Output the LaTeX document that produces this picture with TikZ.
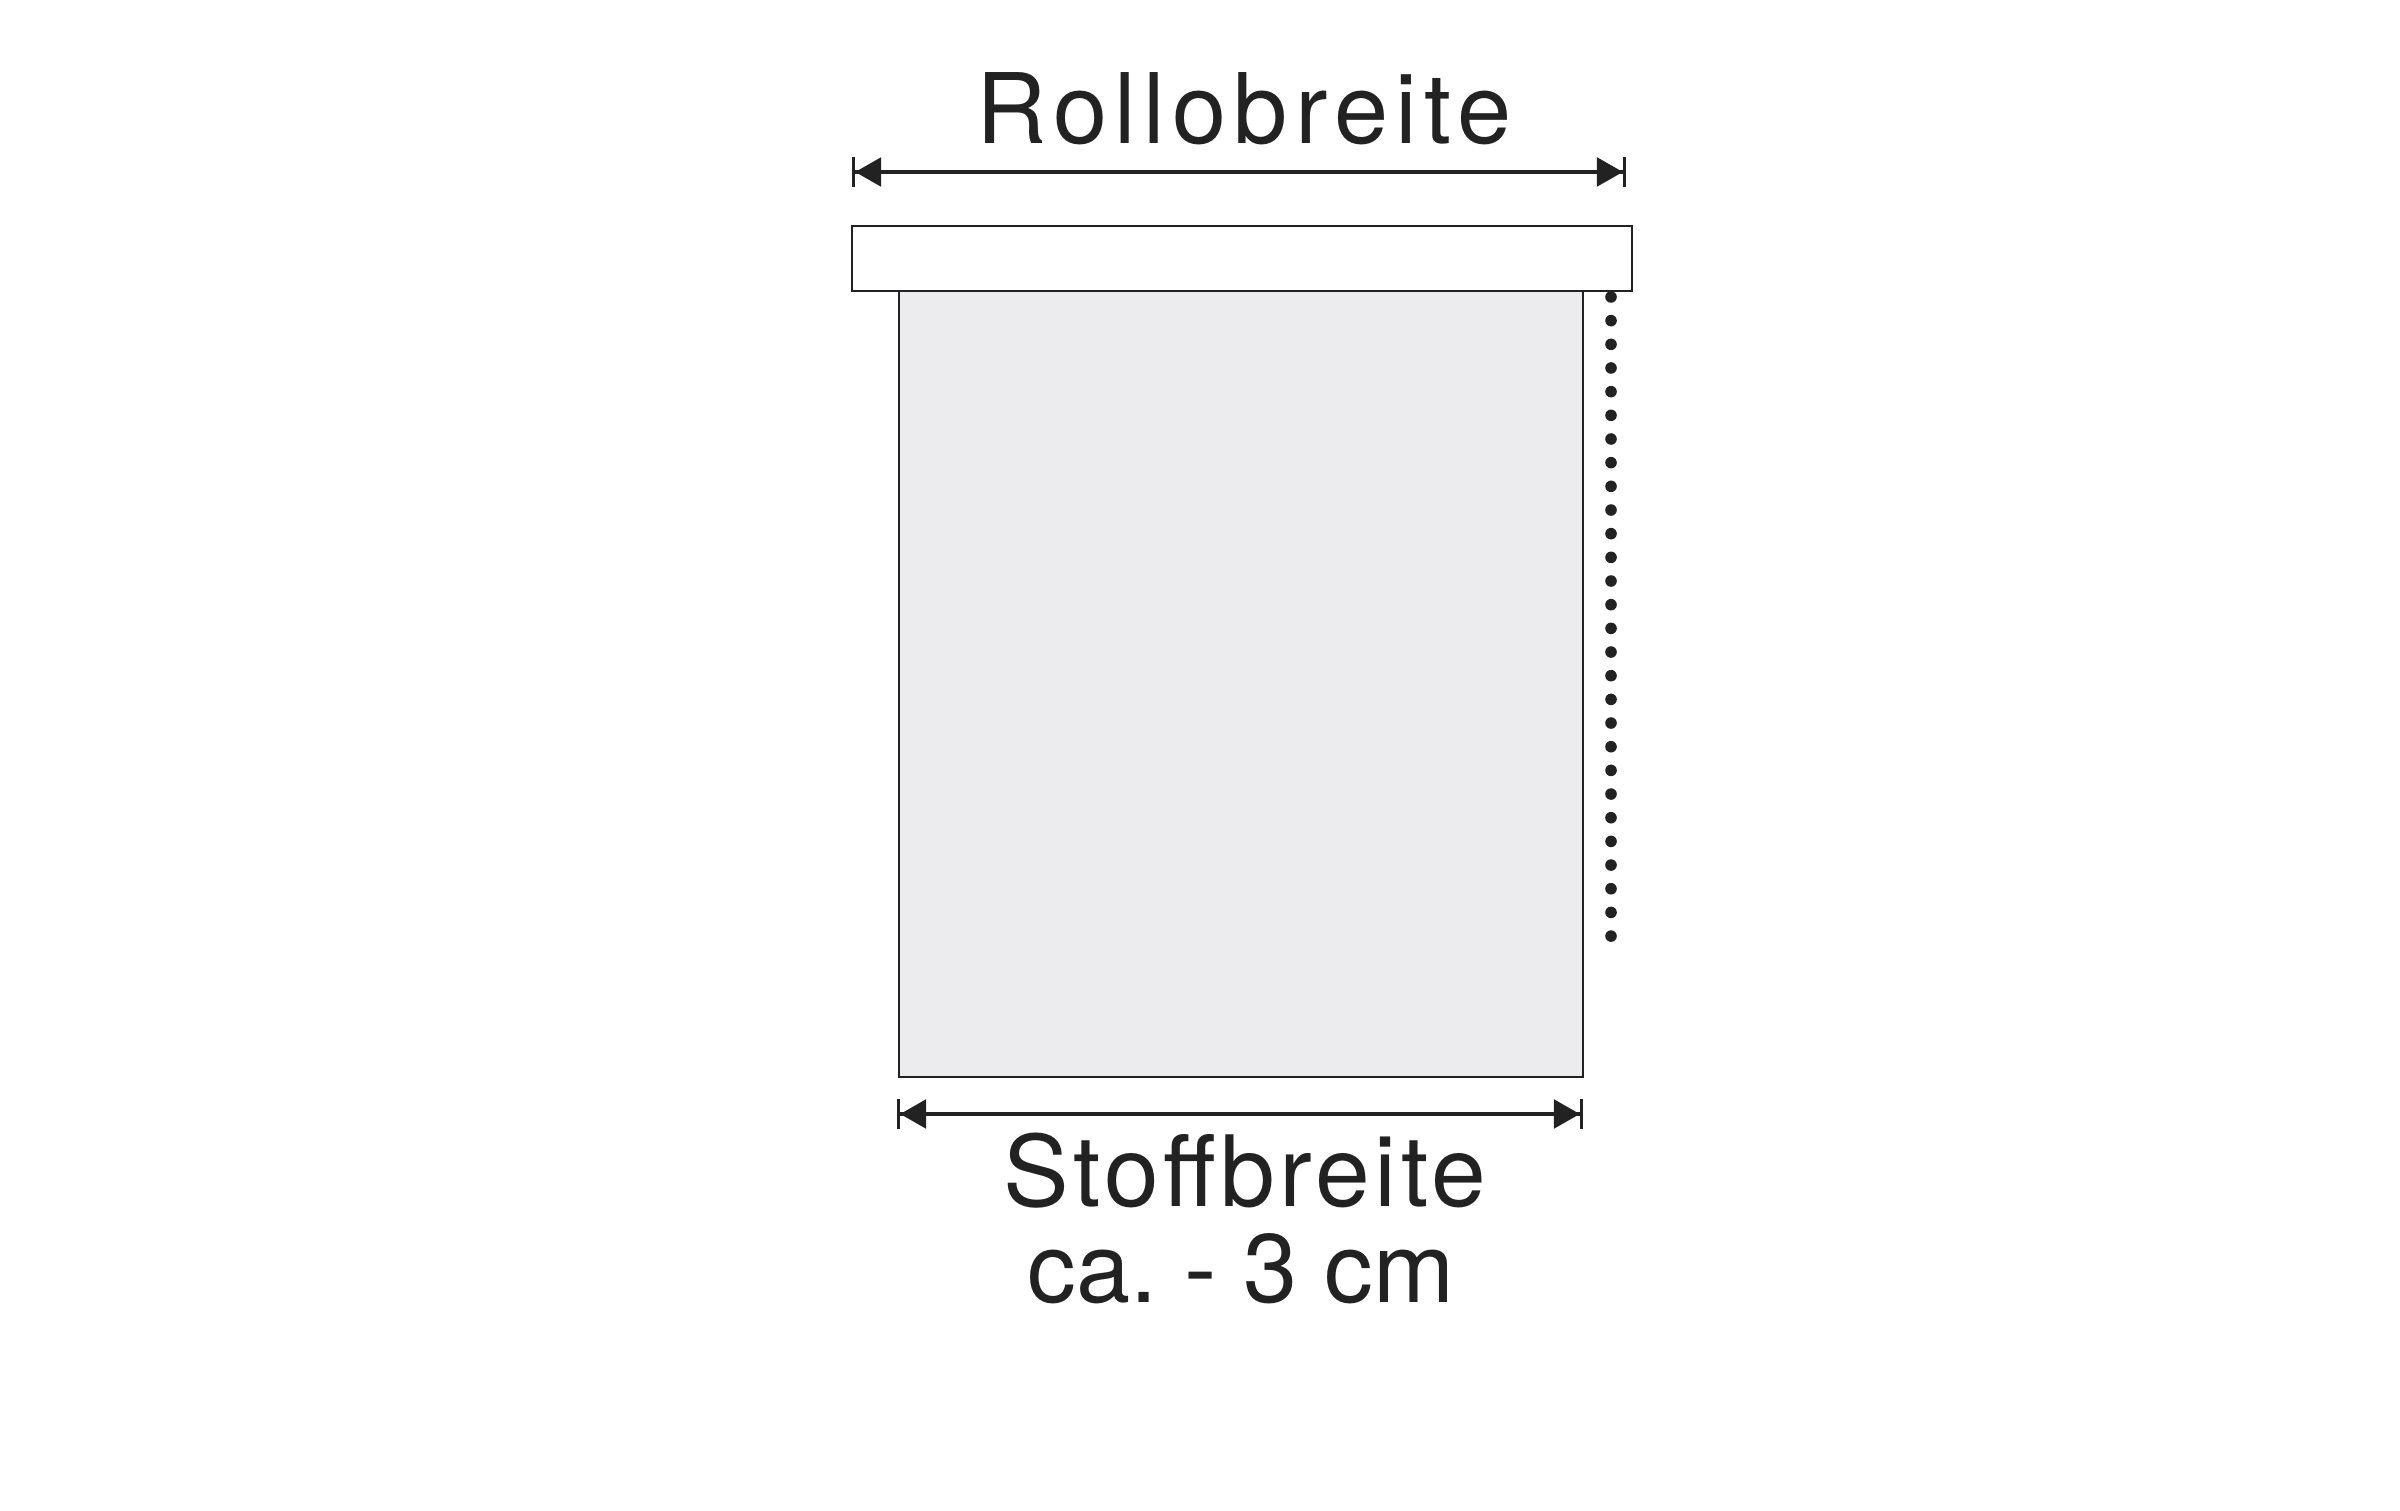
\documentclass[tikz,border=0pt]{standalone}
\usepackage{fontspec}
\setmainfont{TeX Gyre Heros}
\usepackage{tikz}
\usetikzlibrary{arrows.meta,positioning}

\definecolor{fabric}{RGB}{236,236,238}
\definecolor{ink}{RGB}{34,34,34}

\tikzset{
  dimline/.style={line width=0.9pt, draw=ink,
    {Bar[width=8.6pt,line width=0.9pt]Triangle[length=7.4pt,width=8.2pt]}-{Triangle[length=7.4pt,width=8.2pt]Bar[width=8.6pt,line width=0.9pt]}},
  label/.style={text=ink, anchor=base, inner sep=0pt, font=\fontsize{27.7}{33}\selectfont},
  part/.style={draw=ink, line width=0.8pt}
}

\begin{document}
\frenchspacing
\begin{tikzpicture}
\useasboundingbox (0,0) rectangle (24,15.1);

% roller and fabric
\draw[part, fill=fabric] (8.99,12.19) rectangle (15.83,4.33);
\draw[part, fill=white] (8.52,12.84) rectangle (16.32,12.19);

% chain
\foreach \i in {0,...,27}
  \fill[ink] (16.11,12.13-0.2367*\i) circle (0.058);

% dimensions
\coordinate (rolloL) at (8.52,13.38);
\coordinate (rolloR) at (16.26,13.38);
\coordinate (stoffL) at (8.97,3.96);
\coordinate (stoffR) at (15.83,3.96);
\draw[dimline] (rolloL) -- (rolloR);
\draw[dimline] (stoffL) -- (stoffR);

\node[label, font=\fontsize{27.7}{33}\selectfont\addfontfeatures{LetterSpace=7.5}] (rolloLabel) at (12.44,13.66) {Rollobreite};
\node[label, font=\fontsize{28}{33}\selectfont\addfontfeatures{LetterSpace=4.5}] (stoffLabel) at (12.45,3.04) {Stoffbreite};
\node[label] (cmLabel) at (12.41,2.08) {ca. - 3 cm};
\end{tikzpicture}
\end{document}
